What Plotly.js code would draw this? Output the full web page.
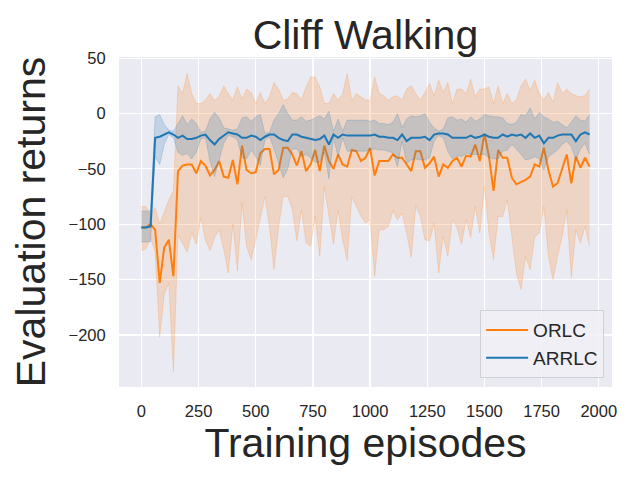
<!DOCTYPE html>
<html>
<head>
<meta charset="utf-8">
<script src="https://cdn.plot.ly/plotly-3.0.1.min.js"></script>
<style>html,body{margin:0;padding:0;background:#fff;}#chart{width:640px;height:480px;}</style>
</head>
<body>
<div id="chart"></div>
<script>
const episodes = [0,20,40,60,80,100,120,140,160,180,200,220,240,260,280,300,320,340,360,380,400,420,440,460,480,500,520,540,560,580,600,620,640,660,680,700,720,740,760,780,800,820,840,860,880,900,920,940,960,980,1000,1020,1040,1060,1080,1100,1120,1140,1160,1180,1200,1220,1240,1260,1280,1300,1320,1340,1360,1380,1400,1420,1440,1460,1480,1500,1520,1540,1560,1580,1600,1620,1640,1660,1680,1700,1720,1740,1760,1780,1800,1820,1840,1860,1880,1900,1920,1940,1960];

const orlcMean = [-103,-103,-100,-105,-153,-121,-114,-147,-52,-47,-46,-46,
  -54,-43,-47,-56,-51,-43,-57,-58,-42,-64,-29,-51,
  -54,-53,-36,-32,-32,-55,-51,-31,-31,-37,-47,-34,-52,
  -46,-33,-52,-29,-43,-50,-37,-46,-48,-33,-34,-43,
  -40,-31,-56,-43,-43,-43,-37,-40,-40,-46,-52,-34,-34,
  -49,-45,-39,-57,-46,-49,-43,-40,-48,-38,-39,-28,
  -43,-18,-39,-70,-33,-40,-40,-58,-64,-62,-60,-57,-46,
  -48,-31,-51,-66,-63,-49,-37,-63,-39,-49,-40,-48];

const orlcUpper = [-84,-84,-92,-85,-100,-88,-78,-70,25,18,36,18,
  9,9,12,18,12,15,25,18,12,24,13,22,
  19,9,19,9,15,28,22,12,13,19,18,12,24,
  33,33,24,9,9,18,12,18,36,12,18,15,
  12,12,33,18,16,12,15,16,12,22,25,18,12,
  19,27,16,30,19,28,9,22,22,18,31,15,
  22,22,24,9,25,9,18,9,12,25,31,21,30,
  18,12,19,10,28,18,22,18,16,15,16,22];

const orlcLower = [-124,-122,-112,-125,-202,-163,-153,-233,-110,-118,-125,-108,
  -118,-94,-114,-124,-112,-105,-123,-144,-100,-142,-81,-120,
  -132,-114,-96,-75,-102,-141,-102,-75,-75,-87,-115,-87,-117,
  -120,-93,-129,-66,-93,-118,-87,-114,-133,-75,-84,-93,
  -99,-96,-147,-105,-105,-102,-88,-96,-90,-108,-130,-83,-93,
  -114,-115,-99,-144,-111,-129,-96,-103,-118,-96,-112,-84,
  -108,-66,-108,-132,-93,-93,-78,-111,-144,-159,-129,-141,-111,
  -108,-84,-129,-150,-129,-111,-87,-148,-105,-117,-102,-120];

const arrlcMean = [-103,-103,-102,-22,-21,-19,-17,-19,-22,-20,-23,-23,
  -22,-20,-19,-24,-28,-23,-20,-17,-18,-19,-22,-22,
  -20,-21,-24,-21,-19,-19,-22,-24,-25,-19,-19,-21,-22,
  -23,-24,-23,-20,-28,-19,-22,-19,-20,-20,-20,-20,
  -20,-20,-19,-21,-21,-22,-22,-24,-19,-25,-22,-22,-22,
  -21,-24,-19,-18,-18,-19,-22,-22,-22,-22,-20,-22,
  -21,-19,-21,-22,-22,-19,-21,-19,-20,-19,-22,-18,-22,
  -20,-27,-22,-22,-20,-19,-19,-19,-25,-19,-17,-19];

const arrlcUpper = [-88,-88,-88,-3,-1,-10,-15,-16,-9,-2,-10,-5,
  -9,-17,-16,-5,1,-4,-13,-14,-15,-14,-4,-3,
  -7,-3,-1,-18,-17,-6,0,8,0,-6,-6,-3,-7,
  -6,-4,-2,-5,2,-16,-5,-16,-6,-6,-6,-6,
  -6,-7,-6,-9,-9,-10,-8,0,-13,-5,-2,-3,-2,
  0,-8,-13,-16,-14,-4,-3,-6,-5,-8,-3,-7,
  -5,-1,-2,-3,-3,-4,-9,-10,-8,-1,-2,5,-5,
  1,-3,-5,-8,-7,-10,-13,-8,-2,-6,-7,-1];

const arrlcLower = [-116,-116,-116,-39,-46,-28,-19,-22,-35,-38,-36,-41,
  -35,-23,-22,-43,-57,-42,-27,-20,-21,-24,-40,-41,
  -33,-39,-47,-24,-21,-32,-44,-58,-50,-32,-32,-39,-37,
  -40,-44,-44,-35,-59,-22,-39,-22,-34,-34,-34,-34,
  -34,-33,-32,-33,-33,-34,-36,-48,-25,-45,-42,-41,-42,
  -42,-40,-25,-20,-22,-34,-41,-38,-39,-36,-37,-37,
  -37,-37,-40,-41,-41,-34,-33,-28,-32,-37,-42,-41,-39,
  -41,-51,-39,-36,-33,-28,-25,-30,-42,-32,-27,-37];

const xTicks = [0,250,500,750,1000,1250,1500,1750,2000];
const yTicks = [50,0,-50,-100,-150,-200];

const ORANGE = '#ff7f0e', BLUE = '#1f77b4';
const FONT = '"Liberation Sans", Arial, sans-serif';
const TXT = '#262626';

const traces = [
  {x: episodes, y: orlcLower, type: 'scatter', mode: 'lines', showlegend: false, hoverinfo: 'skip',
   line: {color: 'rgba(255,127,14,0.25)', width: 0.8}},
  {x: episodes, y: orlcUpper, type: 'scatter', mode: 'lines', showlegend: false, hoverinfo: 'skip',
   fill: 'tonexty', fillcolor: 'rgba(255,127,14,0.2)', line: {color: 'rgba(255,127,14,0.25)', width: 0.8}},
  {x: episodes, y: orlcMean, type: 'scatter', mode: 'lines', name: 'ORLC',
   line: {color: ORANGE, width: 2}},
  {x: episodes, y: arrlcLower, type: 'scatter', mode: 'lines', showlegend: false, hoverinfo: 'skip',
   line: {color: 'rgba(31,119,180,0.25)', width: 0.8}},
  {x: episodes, y: arrlcUpper, type: 'scatter', mode: 'lines', showlegend: false, hoverinfo: 'skip',
   fill: 'tonexty', fillcolor: 'rgba(31,119,180,0.2)', line: {color: 'rgba(31,119,180,0.25)', width: 0.8}},
  {x: episodes, y: arrlcMean, type: 'scatter', mode: 'lines', name: 'ARRLC',
   line: {color: BLUE, width: 2}}
];

const layout = {
  width: 640, height: 480,
  margin: {l: 119, r: 28, t: 57, b: 93},
  paper_bgcolor: '#ffffff',
  plot_bgcolor: '#eaeaf2',
  font: {family: FONT, color: TXT, size: 16.5},
  title: {text: 'Cliff Walking', font: {family: FONT, size: 41, color: TXT},
          x: 0.571, xref: 'container', xanchor: 'center', y: 0.927, yref: 'container', yanchor: 'middle'},
  xaxis: {
    range: [-98, 2058], tickvals: xTicks, ticktext: xTicks.map(String),
    showgrid: true, gridcolor: '#ffffff', gridwidth: 1.2, zeroline: false, showline: false,
    ticks: 'outside', ticklen: 9, tickcolor: 'rgba(0,0,0,0)',
    tickfont: {family: FONT, size: 16.5, color: TXT},
    title: {text: 'Training episodes', font: {family: FONT, size: 41, color: TXT}, standoff: 4}
  },
  yaxis: {
    range: [-247, 51], tickvals: yTicks,
    showgrid: true, gridcolor: '#ffffff', gridwidth: 1.2, zeroline: false, showline: false,
    ticks: 'outside', ticklen: 9, tickcolor: 'rgba(0,0,0,0)',
    tickfont: {family: FONT, size: 16.5, color: TXT},
    title: {text: 'Evaluation returns', font: {family: FONT, size: 41, color: TXT}, standoff: 10}
  },
  legend: {
    x: 0.984, y: 0.027, xanchor: 'right', yanchor: 'bottom',
    traceorder: 'normal',
    entrywidth: 136, entrywidthmode: 'pixels', itemwidth: 42,
    bgcolor: 'rgba(240,240,246,0.85)', bordercolor: '#cfcfd6', borderwidth: 1,
    font: {family: FONT, size: 19, color: TXT}
  },
  showlegend: true
};

Plotly.newPlot('chart', traces, layout, {staticPlot: true, displayModeBar: false});
</script>
</body>
</html>
